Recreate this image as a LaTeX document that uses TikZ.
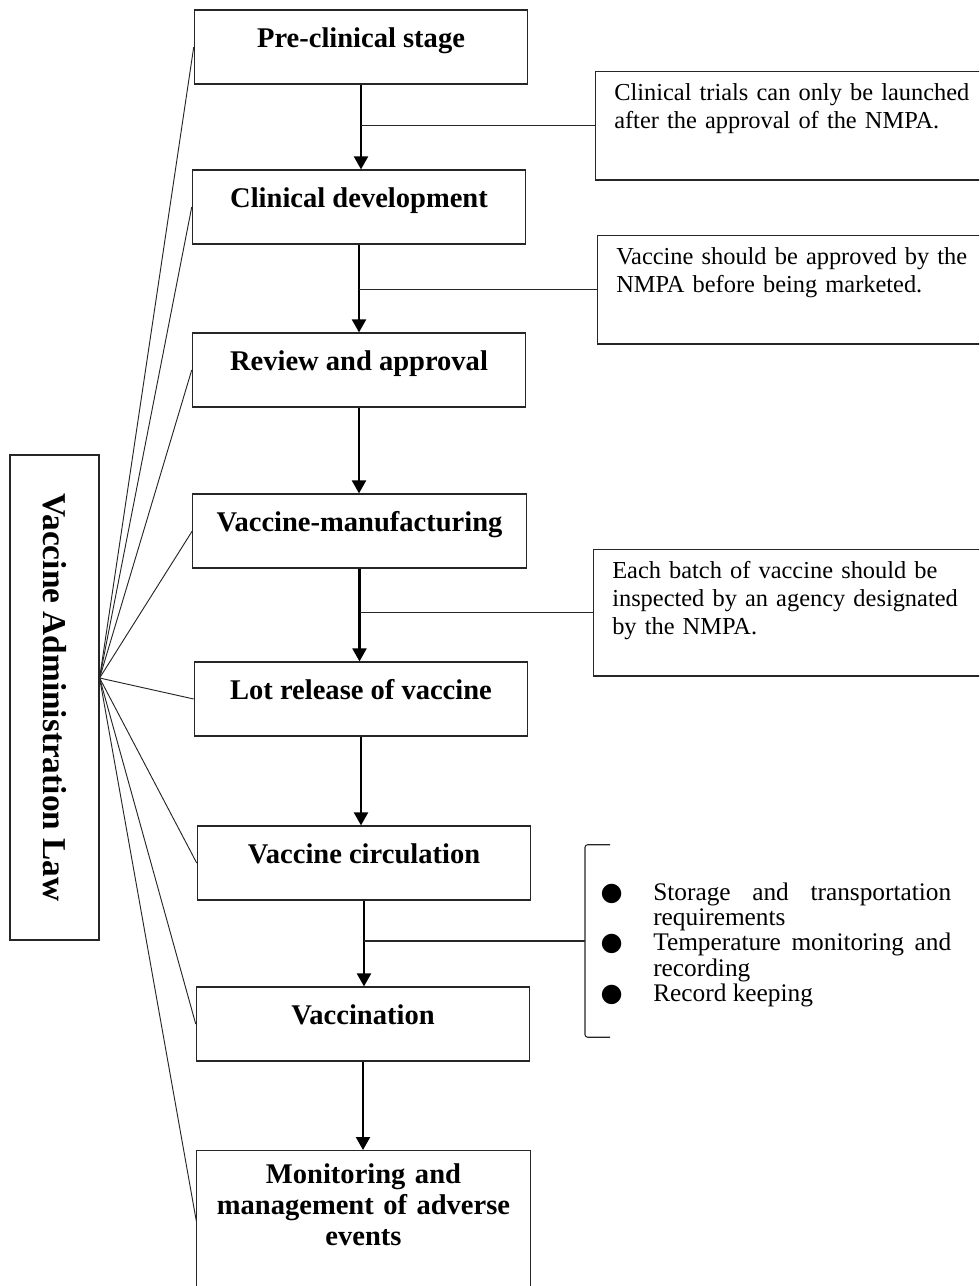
\documentclass[tikz,border=0pt]{standalone}
\usepackage{fontspec}
\setmainfont{Liberation Serif}
\newfontfamily\bulletfont{DejaVu Sans}
\usepackage{enumitem}
\usetikzlibrary{positioning,calc,arrows.meta}

\begin{document}
\begin{tikzpicture}[x=0.75pt,y=-0.75pt]
  \tikzset{
    stage/.style={draw=black!85,line width=0.9pt,minimum width=250pt,
                  minimum height=55.5pt,inner sep=6pt,text height=10pt,text depth=10pt,
                  font=\fontsize{21.4}{23.25}\selectfont\bfseries},
    note/.style={draw=black!85,line width=0.9pt,anchor=north west,text width=279pt,
                 align=left,inner xsep=14pt,inner ysep=9pt,text height=13pt,
                 font=\fontsize{18.3}{21}\selectfont},
    flow/.style={line width=1.6pt,-{Triangle[length=9.75pt,width=10.5pt]}},
    spoke/.style={line width=0.7pt,black!85},
    tie/.style={line width=0.8pt,black!85},
  }
  \useasboundingbox (0,0) rectangle (979,1286);
  \clip (0,0) rectangle (979,1286);
  % ---- the law ----
  \node[draw=black!85,line width=0.9pt,rotate=-90,minimum width=363.75pt,
        minimum height=66.75pt,font=\fontsize{25}{25}\selectfont\bfseries]
        (law) at (54.5,697.5) {Vaccine Administration Law};
  \coordinate (hub) at ($(law.north)+(0,-19.5)$);
  % ---- stages ----
  \node[stage] (s1) at (361,47) {Pre-clinical stage};
  \node[stage] (s2) at (359,207) {Clinical development};
  \node[stage] (s3) at (359,370) {Review and approval};
  \node[stage] (s4) at (359.5,531) {Vaccine-manufacturing};
  \node[stage] (s5) at (361,699) {Lot release of vaccine};
  \node[stage] (s6) at (364,863) {Vaccine circulation};
  \node[stage] (s7) at (363,1024) {Vaccination};
  \node[stage,anchor=north,text width=225pt,align=center,text height=18.75pt,
        text depth=74.25pt] (s8) at (363.5,1150)
       {Monitoring and\\ management of adverse\\ events};
  \foreach \a/\b in {s1/s2,s2/s3,s3/s4,s4/s5,s5/s6,s6/s7,s7/s8}
    \draw[flow] (\a.south) -- (\a.south |- \b.north);
  \foreach \i in {1,...,8}
    \draw[spoke] (hub) -- (s\i.west);
  % ---- side notes ----
  \node[note,text depth=50.25pt] (n1) at (595,71)
       {Clinical trials can only be launched after the approval of the NMPA.};
  \node[note,text depth=50.25pt] (n2) at (597,235)
       {Vaccine should be approved by the NMPA before being marketed.};
  \node[note,text depth=63.75pt] (n3) at (593,549)
       {Each batch of vaccine should be inspected by an agency designated by the NMPA.};
  \node[anchor=west,inner sep=0pt,minimum height=144pt,text width=274.5pt,align=justify,
        font=\fontsize{19}{19}\selectfont] (n4) at (585,941) {%
    \hyphenpenalty=10000\relax
    \begin{itemize}[nosep,leftmargin=51pt,labelsep=23pt,
                    label={\bulletfont\fontsize{19}{19}\selectfont ●}]
      \item Storage and transportation requirements
      \item Temperature monitoring and recording
      \item Record keeping
    \end{itemize}};
  \draw[tie,rounded corners=2pt] ($(n4.north west)+(25,0)$) -- (n4.north west)
       -- (n4.south west) -- ($(n4.south west)+(25,0)$);
  \draw[tie] (n1.west) -- (n1.west -| s1.south);
  \draw[tie] (n2.west) -- (n2.west -| s2.south);
  \draw[tie] (n3.west) -- (n3.west -| s4.south);
  \draw[tie,line width=1.4pt] (n4.west) -- (n4.west -| s6.south);
\end{tikzpicture}
\end{document}
